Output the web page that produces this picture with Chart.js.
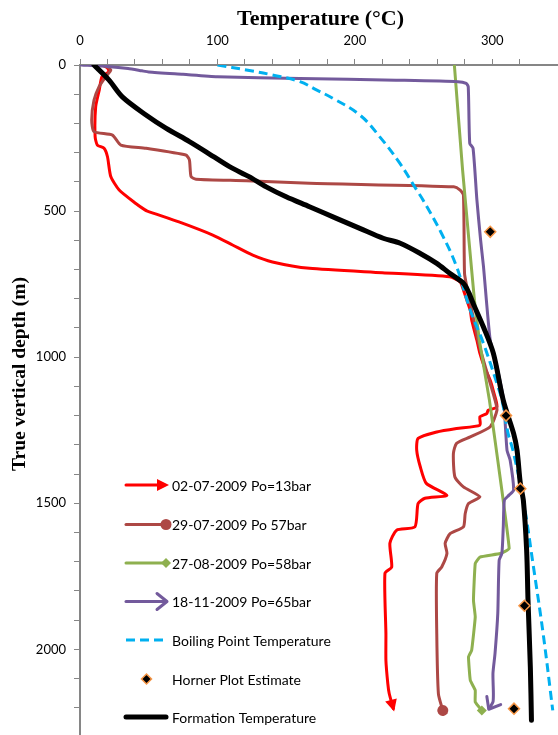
<!DOCTYPE html>
<html>
<head>
<meta charset="utf-8">
<script src="https://cdn.jsdelivr.net/npm/chart.js@4"></script>
<style>
  html, body { margin: 0; padding: 0; background: #fff; }
  #wrap { width: 558px; height: 735px; overflow: hidden; position: relative; }
  canvas { display: block; }
</style>
</head>
<body>
<div id="wrap"><canvas id="c" width="600" height="760"></canvas></div>
<script>
// Well temperature logs: depth (m) and temperature (°C) pairs per survey
const redDepth = [0, 10, 23, 40, 86, 143, 245, 274, 285, 314, 382, 428, 474, 495, 500, 537, 582, 616, 651, 674, 696, 711, 725, 742, 770, 805, 840, 873, 910, 942, 987, 1030, 1079, 1120, 1170, 1182, 1193, 1204, 1233, 1244, 1256, 1278, 1318, 1375, 1432, 1473, 1483, 1501, 1581, 1592, 1637, 1718, 1740, 1946, 2038, 2118, 2151, 2203];
const redTemp  = [16, 20, 21, 16, 14, 11.4, 11, 12.6, 17.5, 20, 22.4, 28.5, 40.6, 47, 49, 72, 96.6, 111, 125.7, 140, 167, 220, 269, 276.6, 279, 281.5, 284, 285, 287, 288.8, 291, 294, 298.5, 301, 303.4, 297, 296, 291, 291, 274, 259.6, 246, 245, 247.6, 252, 267, 251, 246, 243.7, 230.4, 225.5, 226.8, 221.9, 222.6, 222.6, 224, 225, 228];

const brownDepth = [0, 17, 40, 74, 120, 188, 228, 240, 274, 285, 308, 325, 382, 391, 396, 405, 417, 428, 445, 713, 759, 850, 950, 1050, 1147, 1182, 1238, 1273, 1295, 1330, 1410, 1444, 1478, 1501, 1535, 1581, 1604, 1637, 1672, 1718, 1740, 1946, 2152, 2209];
const brownTemp  = [18, 22.4, 18.7, 13.9, 10.2, 8.5, 10.2, 23.6, 29.7, 48, 77, 79.6, 80.8, 84.4, 121, 167, 272, 276.6, 279, 279.8, 281.5, 285.5, 290, 296, 302, 303.4, 298.5, 284, 274, 271.7, 272.8, 279, 291, 282.7, 280.3, 279, 269.3, 265.7, 267, 263.2, 259.6, 259.6, 260.8, 264];

const greenDepth = [0, 360, 805, 942, 1147, 1655, 1672, 1684, 1706, 1832, 1889, 2003, 2026, 2106, 2140, 2180, 2209];
const greenTemp  = [272.4, 278.4, 287, 290.6, 297.9, 312.3, 305.8, 291, 287.6, 286.3, 287.6, 285, 282.7, 284, 287.6, 287.6, 292.4];

const purpleDepth = [0, 5, 12, 20, 24, 32, 40, 46, 52, 57, 63, 74, 268, 285, 462, 599, 690, 942, 1033, 1147, 1318, 1353, 1455, 1473, 1490, 1581, 1671, 1695, 1877, 2014, 2082, 2151, 2180, 2202];
const purpleTemp  = [1, 20, 35, 45, 50, 75, 100, 160, 230, 275, 281, 282.5, 283.6, 286, 288.8, 291.5, 293.6, 298.5, 303.4, 308.2, 310.7, 313, 315.5, 312, 308.8, 308, 307, 305, 304, 302, 300.5, 300.8, 300.5, 297.8];

const boilDepth = [0, 17, 34, 57, 85, 114, 171, 245, 337, 428, 462, 576, 690, 839, 952, 1090, 1147, 1261, 1318, 1490, 1719, 1946, 2209];
const boilTemp  = [100, 121, 140, 160, 172, 184, 203.6, 218, 232.8, 245, 249.6, 263, 274, 284, 293.5, 303.4, 307, 311.5, 315, 322.6, 330, 337, 344];

const hornerDepth = [571, 1200, 1450, 1851, 2203];
const hornerTemp  = [298.5, 310, 320.4, 323.4, 315.8];

const formDepth = [0, 51, 110, 171, 216, 262, 297, 348, 382, 417, 451, 485, 525, 559, 593, 610, 645, 679, 713, 747, 780, 815, 896, 987, 1148, 1261, 1318, 1432, 1490, 1661, 1832, 2062, 2243];
const formTemp  = [10.2, 21, 31, 48, 62.5, 79.6, 91.7, 108.8, 123, 135.5, 150, 167, 186.6, 203.6, 220.6, 233, 247.6, 259.6, 269, 279, 283, 286, 293.5, 300.8, 308, 315.5, 318, 320.4, 322.6, 325, 326, 327.7, 328.5];

const seriesLabels = [
  '02-07-2009 Po=13bar',
  '29-07-2009 Po 57bar',
  '27-08-2009 Po=58bar',
  '18-11-2009 Po=65bar',
  'Boiling Point Temperature',
  'Horner Plot Estimate',
  'Formation Temperature'
];

const axisTitleX = 'Temperature (°C)';
const axisTitleY = 'True vertical depth (m)';

function pairs(temps, depths) {
  return temps.map((t, i) => ({ x: t, y: depths[i] }));
}

const BODY_FONT = 'Lato';

// Marker shapes used at the end of logged curves and in the key
function drawMark(ctx, kind, x, y, ang, color) {
  ctx.save();
  ctx.translate(x, y);
  ctx.rotate(ang);
  ctx.fillStyle = color;
  ctx.strokeStyle = color;
  if (kind === 'arrow') {
    ctx.beginPath();
    ctx.moveTo(3, 0);
    ctx.lineTo(-9, -6);
    ctx.lineTo(-9, 6);
    ctx.closePath();
    ctx.fill();
  } else if (kind === 'circle') {
    ctx.beginPath();
    ctx.arc(0, 0, 5.5, 0, Math.PI * 2);
    ctx.fill();
  } else if (kind === 'diamond') {
    ctx.rotate(-ang);
    ctx.beginPath();
    ctx.moveTo(0, -5);
    ctx.lineTo(5, 0);
    ctx.lineTo(0, 5);
    ctx.lineTo(-5, 0);
    ctx.closePath();
    ctx.fill();
  } else if (kind === 'open') {
    ctx.lineWidth = 3;
    ctx.lineCap = 'round';
    ctx.lineJoin = 'round';
    ctx.beginPath();
    ctx.moveTo(-9, -8);
    ctx.lineTo(1, 0);
    ctx.lineTo(-9, 8);
    ctx.stroke();
  }
  ctx.restore();
}

const endMarks = {
  id: 'endMarks',
  afterDatasetsDraw(chart) {
    const ctx = chart.ctx;
    chart.data.datasets.forEach((ds, i) => {
      if (!ds.endMark) return;
      const pts = chart.getDatasetMeta(i).data;
      const a = pts[pts.length - 2], b = pts[pts.length - 1];
      const ang = Math.atan2(b.y - a.y, b.x - a.x);
      drawMark(ctx, ds.endMark, b.x, b.y, ang, ds.borderColor);
    });
  }
};

// Key drawn inside the plot, lower left
const keyBox = {
  id: 'keyBox',
  afterDraw(chart) {
    const ctx = chart.ctx;
    const x0 = 126, x1 = 166, tx = 172;
    const rowY = [485, 524.5, 563, 601.5, 640, 679, 717];
    const byLabel = {};
    chart.data.datasets.forEach(ds => { byLabel[ds.label] = ds; });
    ctx.save();
    seriesLabels.forEach((lab, r) => {
      const ds = byLabel[lab];
      const y = rowY[r];
      if (ds.showLine !== false) {
        ctx.save();
        ctx.strokeStyle = ds.borderColor;
        ctx.lineWidth = ds.borderWidth;
        ctx.lineCap = ds.borderDash ? 'butt' : 'round';
        ctx.setLineDash(ds.borderDash || []);
        ctx.beginPath();
        ctx.moveTo(x0, y);
        ctx.lineTo(ds.endMark === 'arrow' ? x1 - 8 : x1, y);
        ctx.stroke();
        ctx.restore();
        if (ds.endMark) drawMark(ctx, ds.endMark, x1, y, 0, ds.borderColor);
      } else {
        ctx.save();
        ctx.translate(146.5, y);
        ctx.beginPath();
        ctx.moveTo(0, -5); ctx.lineTo(5, 0); ctx.lineTo(0, 5); ctx.lineTo(-5, 0); ctx.closePath();
        ctx.fillStyle = ds.backgroundColor;
        ctx.fill();
        ctx.lineWidth = ds.pointBorderWidth;
        ctx.strokeStyle = ds.borderColor;
        ctx.stroke();
        ctx.restore();
      }
      ctx.fillStyle = '#000';
      ctx.font = '14px ' + BODY_FONT;
      ctx.textAlign = 'left';
      ctx.textBaseline = 'middle';
      ctx.fillText(lab, tx, y + 1);
    });
    ctx.restore();
  }
};

// Depth axis title, rotated
const depthTitle = {
  id: 'depthTitle',
  afterDraw(chart) {
    const ctx = chart.ctx;
    ctx.save();
    ctx.translate(20, 374);
    ctx.rotate(-Math.PI / 2);
    ctx.font = 'bold 19.5px "Liberation Serif"';
    ctx.fillStyle = '#000';
    ctx.textAlign = 'center';
    ctx.textBaseline = 'middle';
    ctx.fillText(axisTitleY, 0, 0);
    ctx.restore();
  }
};

const lineBase = { showLine: true, pointRadius: 0, pointHoverRadius: 0, tension: 0.2, borderJoinStyle: 'round', borderCapStyle: 'round', fill: false };

const datasets = [
  Object.assign({}, lineBase, { label: seriesLabels[0], data: pairs(redTemp, redDepth), borderColor: '#FF0000', borderWidth: 3, endMark: 'arrow', order: 6 }),
  Object.assign({}, lineBase, { label: seriesLabels[1], data: pairs(brownTemp, brownDepth), borderColor: '#AD4845', borderWidth: 3, endMark: 'circle', order: 5 }),
  Object.assign({}, lineBase, { label: seriesLabels[2], data: pairs(greenTemp, greenDepth), borderColor: '#8EB04F', borderWidth: 3, endMark: 'diamond', tension: 0.1, order: 4 }),
  Object.assign({}, lineBase, { label: seriesLabels[3], data: pairs(purpleTemp, purpleDepth), borderColor: '#735A9C', borderWidth: 3, endMark: 'open', order: 3 }),
  Object.assign({}, lineBase, { label: seriesLabels[4], data: pairs(boilTemp, boilDepth), borderColor: '#00B0F0', borderWidth: 3, borderDash: [9, 5], borderCapStyle: 'butt', tension: 0.4, order: 2 }),
  { label: seriesLabels[5], data: pairs(hornerTemp, hornerDepth), showLine: false, pointStyle: 'rectRot', pointRadius: 5.5, pointHoverRadius: 5.5,
    backgroundColor: '#000000', borderColor: '#F79646', pointBorderWidth: 1.5, borderWidth: 1.5, order: 0 },
  Object.assign({}, lineBase, { label: seriesLabels[6], data: pairs(formTemp, formDepth), borderColor: '#000000', borderWidth: 5, tension: 0.3, order: 1 })
];

const axisGrey = '#868686';

new Chart(document.getElementById('c'), {
  type: 'scatter',
  data: { datasets },
  options: {
    responsive: false,
    animation: false,
    devicePixelRatio: 1,
    events: [],
    layout: { padding: { left: 0, top: 0, right: 39, bottom: 23 } },
    plugins: { legend: { display: false }, tooltip: { enabled: false } },
    scales: {
      x: {
        type: 'linear',
        position: 'top',
        min: 0, max: 350,
        afterFit(scale) { scale.height = 65; },
        ticks: {
          stepSize: 20,
          autoSkip: false,
          maxRotation: 0,
          padding: 10,
          color: '#000',
          font: { family: BODY_FONT, size: 13 },
          callback: v => (v % 100 === 0 ? String(v) : '')
        },
        grid: { drawOnChartArea: false, drawTicks: true, tickLength: 6, color: axisGrey, lineWidth: 1 },
        border: { color: axisGrey, width: 2 },
        title: { display: true, text: axisTitleX, color: '#000', padding: { top: 6, bottom: 0 },
                 font: { family: 'Liberation Serif', size: 22, weight: 'bold' } }
      },
      y: {
        type: 'linear',
        reverse: true,
        min: 0, max: 2300,
        afterFit(scale) { scale.width = 80; },
        ticks: {
          stepSize: 100,
          autoSkip: false,
          padding: 8,
          color: '#000',
          font: { family: BODY_FONT, size: 13 },
          callback: v => (v % 500 === 0 ? String(v) : '')
        },
        grid: { drawOnChartArea: false, drawTicks: true, tickLength: 6, color: axisGrey, lineWidth: 1 },
        border: { color: axisGrey, width: 2 }
      }
    }
  },
  plugins: [endMarks, keyBox, depthTitle]
});
</script>
</body>
</html>
